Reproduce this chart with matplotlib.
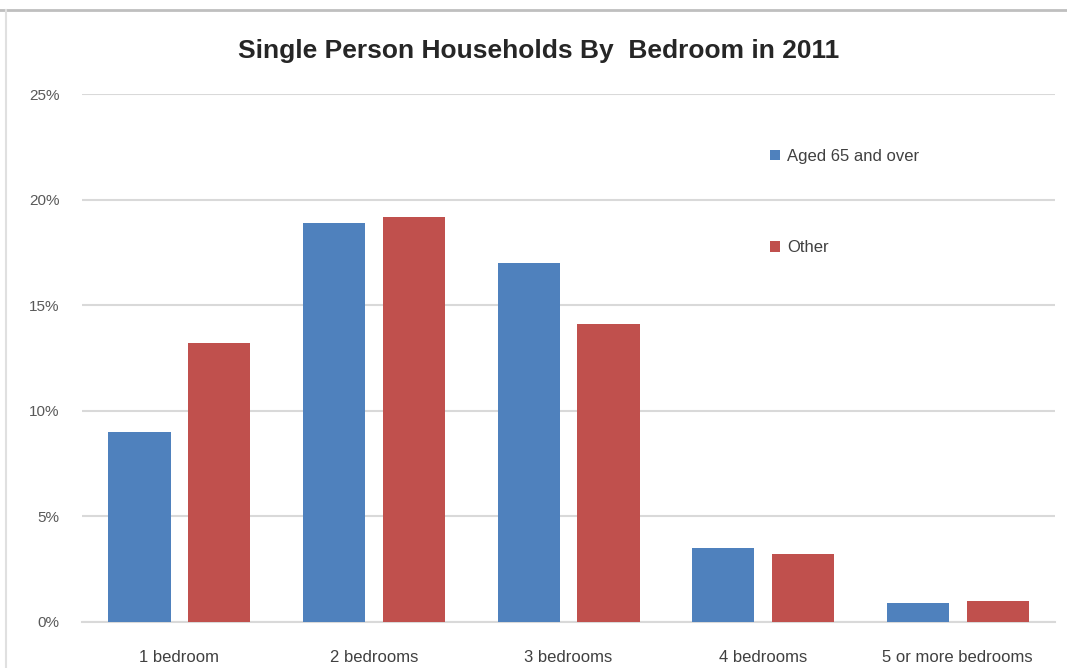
import numpy as np
import matplotlib.pyplot as plt
from matplotlib.lines import Line2D
from matplotlib.ticker import PercentFormatter

# Donnees
categories = ['1 bedroom', '2 bedrooms', '3 bedrooms', '4 bedrooms', '5 or more bedrooms']
aged_65 = [9.0, 18.9, 17.0, 3.5, 0.9]
other = [13.2, 19.2, 14.1, 3.2, 1.0]
series_names = ['Aged 65 and over', 'Other']

plt.rcParams['font.family'] = ['Liberation Sans', 'DejaVu Sans']

fig = plt.figure(figsize=(10.67, 6.68), dpi=100)
ax = fig.add_axes([0.0769, 0.0689, 0.9119, 0.7901])

x = np.arange(len(categories))
w = 0.32
bleu = '#4f81bd'
rouge = '#c0504d'
ax.bar(x - 0.205, aged_65, w, color=bleu, label=series_names[0], zorder=3)
ax.bar(x + 0.205, other, w, color=rouge, label=series_names[1], zorder=3)

ax.set_xlim(-0.5, len(categories) - 0.5)
ax.set_ylim(0, 25)
ax.set_yticks(np.arange(0, 26, 5))
ax.yaxis.set_major_formatter(PercentFormatter(decimals=0))
ax.set_xticks(x)
ax.set_xticklabels(categories)
ax.tick_params(axis='x', length=0, pad=20, labelsize=12, labelcolor='#404040')
ax.tick_params(axis='y', length=0, pad=16, labelsize=11, labelcolor='#595959')
ax.grid(axis='y', color='#d9d9d9', linewidth=1.5, zorder=0)
for s in ['top', 'right', 'left']:
    ax.spines[s].set_visible(False)
ax.spines['bottom'].set_color('#d9d9d9')
ax.spines['bottom'].set_linewidth(1.5)

ax.legend(loc='upper left', bbox_to_anchor=(0.692, 0.925), frameon=False,
          handlelength=0.6, handleheight=0.6, handletextpad=0.4,
          labelspacing=4.6, fontsize=12, labelcolor='#404040')

fig.suptitle('Single Person Households By  Bedroom in 2011', y=0.942,
             fontsize=19, fontweight='bold', color='#262626', x=0.505)

# bordure grise du cadre
fig.add_artist(Line2D([0, 1], [0.985, 0.985], color='#bfbfbf', linewidth=2))
fig.add_artist(Line2D([0.006, 0.006], [0, 0.985], color='#e0e0e0', linewidth=1.5))

fig.savefig('out.png', dpi=100)
